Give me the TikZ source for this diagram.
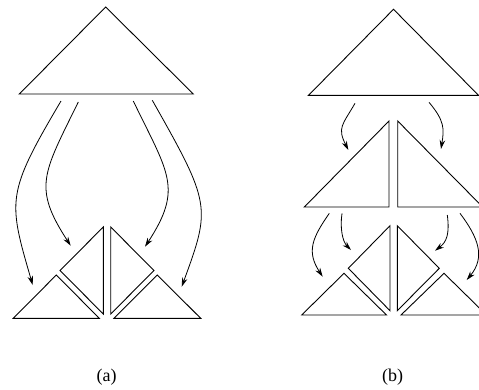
\documentclass[tikz,border=0pt]{standalone}
\usepackage{fontspec}
\setmainfont{Liberation Serif}
\usetikzlibrary{arrows.meta}
\begin{document}
\begin{tikzpicture}[x=1pt,y=-1pt,
  tri/.style={draw=black,line width=0.9pt,line join=miter},
  arr/.style={draw=black,line width=0.8pt,-{Stealth[length=9pt,width=5.5pt]}},
  lbl/.style={font=\fontsize{18}{20}\selectfont,inner sep=0pt}]
\clip (0,0) rectangle (479,389);
\useasboundingbox (0,0) rectangle (479,389);
% ---------- panel (a) ----------
\draw[tri] (105.7,7) -- (193.3,94) -- (19.3,94) -- cycle;
\draw[tri] (103.3,227) -- (103.3,314) -- (60,270.5) -- cycle;
\draw[tri] (110.7,227) -- (110.7,314) -- (154,270.5) -- cycle;
\draw[tri] (56.3,275) -- (99.3,318.3) -- (13.3,318.3) -- cycle;
\draw[tri] (157.3,275) -- (200.7,318.3) -- (114,318.3) -- cycle;
\coordinate (a1s) at (61,101);   \coordinate (a1e) at (32.7,285);
\coordinate (a2s) at (78.3,102); \coordinate (a2e) at (70.7,245.7);
\coordinate (a3s) at (133.3,101);\coordinate (a3e) at (145,246.7);
\coordinate (a4s) at (152.3,100.3);\coordinate (a4e) at (181.7,286.7);
\draw[arr] (a1s) .. controls (6,194) and (8,200) .. (a1e);
\draw[arr] (a2s) .. controls (43,174) and (32.5,187) .. (a2e);
\draw[arr] (a3s) .. controls (168,173) and (183.5,188) .. (a3e);
\draw[arr] (a4s) .. controls (211,204) and (211,207) .. (a4e);
\node[lbl] (la) at (106.7,377.5) {(a)};
% ---------- panel (b) ----------
\draw[tri] (393.5,9.3) -- (478.5,95.3) -- (308.5,95.3) -- cycle;
\draw[tri] (389,121) -- (389,207) -- (304.3,207) -- cycle;
\draw[tri] (397.7,121) -- (397.7,207) -- (482.7,207) -- cycle;
\draw[tri] (390,225.7) -- (390,310.7) -- (348.3,268.3) -- cycle;
\draw[tri] (397.3,225.7) -- (397.3,310.7) -- (439.3,268.3) -- cycle;
\draw[tri] (344,273.3) -- (386.5,315) -- (301.7,315) -- cycle;
\draw[tri] (444,273.3) -- (486.5,315) -- (401,315) -- cycle;
\coordinate (b1s) at (355,103.3);  \coordinate (b1e) at (348.3,150);
\coordinate (b2s) at (429,102.3);  \coordinate (b2e) at (441,149);
\coordinate (b3s) at (329.3,213.3);\coordinate (b3e) at (322.7,276.7);
\coordinate (b4s) at (342,213.3);  \coordinate (b4e) at (351,250);
\coordinate (b5s) at (447.3,215);  \coordinate (b5e) at (435,250.7);
\coordinate (b6s) at (460,213.3);  \coordinate (b6e) at (466.7,280);
\draw[arr] (b1s) .. controls (342.5,125) and (337,127.5) .. (b1e);
\draw[arr] (b2s) .. controls (444.8,121) and (444.2,129) .. (b2e);
\draw[arr] (b3s) .. controls (312.2,238) and (306.2,251.5) .. (b3e);
\draw[arr] (b4s) .. controls (339.8,228.3) and (342.6,241.6) .. (b4e);
\draw[arr] (b5s) .. controls (449.8,234) and (446.6,242) .. (b5e);
\draw[arr] (b6s) .. controls (478,237.3) and (485.9,256.9) .. (b6e);
\node[lbl] (lb) at (392.7,377.5) {(b)};
\end{tikzpicture}
\end{document}
